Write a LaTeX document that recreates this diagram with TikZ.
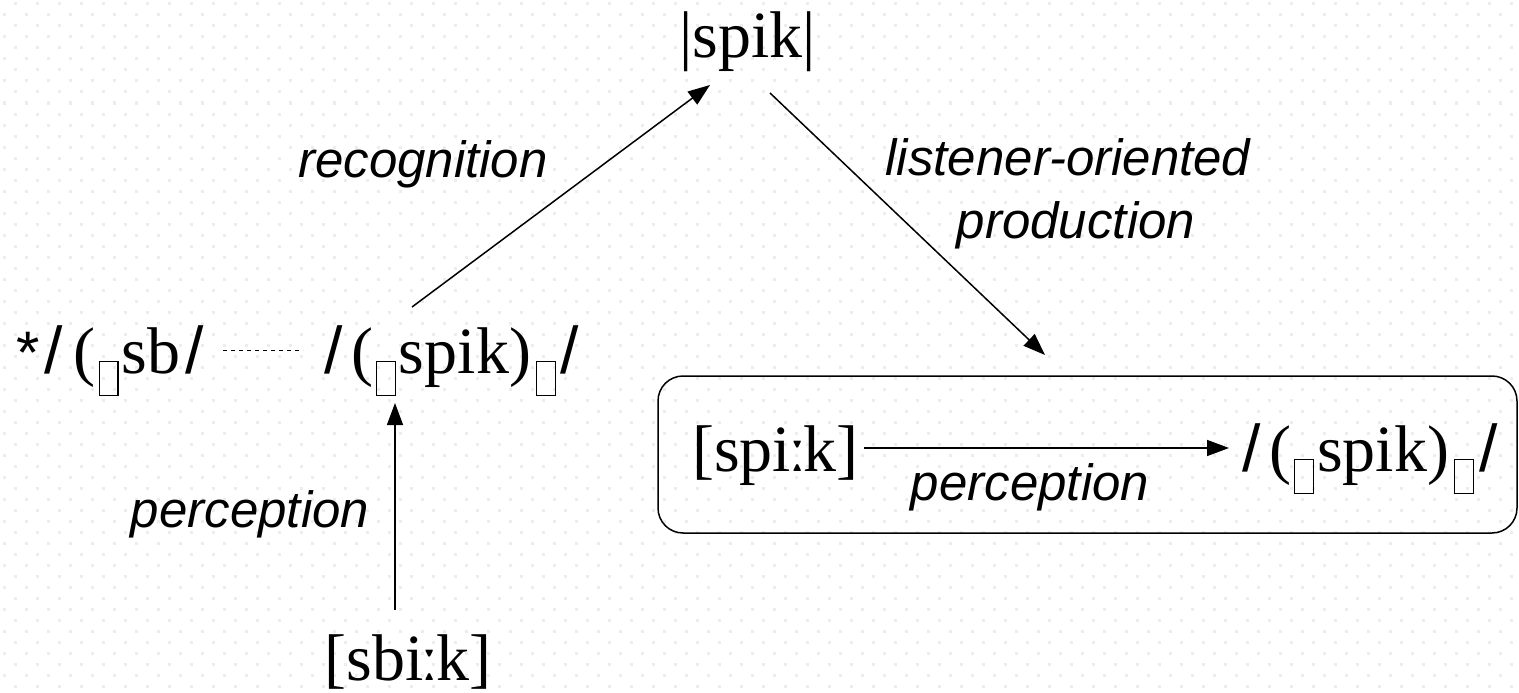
\documentclass[tikz,border=0pt]{standalone}
\usepackage{fontspec}
\setmainfont{Liberation Serif}
\newfontfamily\ser{Liberation Serif}
\newfontfamily\san{Liberation Sans}
\usetikzlibrary{arrows.meta}
\newcommand\sylb{\kern3pt\raisebox{-22pt}{\setlength\fboxsep{0pt}\setlength\fboxrule{1.4pt}\fbox{\rule{0pt}{33pt}\hspace{17.2pt}}}\kern3pt}
\newcommand\psl{{\san/}}
\newcommand\lng{\kern-3pt ː\kern-3pt}
\newcommand\phonfont{\ser\fontsize{66}{70}\selectfont}
\newcommand\labfont{\san\itshape\fontsize{51}{63}\selectfont}
\begin{document}
\begin{tikzpicture}[x=1pt,y=-1pt,
  phon/.style={inner sep=0pt, font=\phonfont},
  lbl/.style={inner sep=0pt, font=\labfont},
  conn/.style={line width=1.5pt, -{Triangle[length=22pt,width=16pt]}},
  frame/.style={draw, rounded corners=25pt, line width=1.5pt},
]
\useasboundingbox (0,0) rectangle (1519,693);
\fill[white] (0,0) rectangle (1519,693);
\foreach \j in {0,...,62} {
  \pgfmathsetmacro\yy{4+11*\j}
  \pgfmathsetmacro\xs{mod(\j,2)==0 ? 13.5 : 2.5}
  \draw[black!7, line width=3pt, dash pattern=on 3pt off 19pt] (\xs,\yy) -- (1519,\yy);
}
\node[frame, minimum width=859pt, minimum height=157pt] (box) at (1087.5,454.5) {};

\node[phon, anchor=base] (top) at (747.5,57.5) {|spik|};
\node[phon, anchor=base] (bot) at (408,680) {[sbi\lng k]};
\node[phon, anchor=base west] (star) at (16,373) {{\san\fontsize{60}{60}\selectfont*}\kern5pt\psl\kern11pt(\sylb sb\kern5pt\psl};
\node[phon, anchor=base] (lform) at (452,373) {\psl\kern8pt(\sylb spik)\kern2pt\sylb\kern2pt\psl};
\node[phon, anchor=base west] (phon) at (692,471) {[spi\lng k]};
\node[phon, anchor=base] (rform) at (1370,471) {\psl\kern8pt(\sylb spik)\kern2pt\sylb\kern2pt\psl};

\node[lbl, anchor=base] (rec) at (423,177) {recognition};
\node[lbl, anchor=base] (perc1) at (250,527) {perception};
\node[lbl, anchor=base] (lop1) at (1068,175) {listener-oriented};
\node[lbl, anchor=base] (lop2) at (1076,238) {production};
\node[lbl, anchor=base] (perc2) at (1030,500) {perception};

\coordinate (recA) at (412,307);
\coordinate (recB) at (710,85);
\coordinate (lisA) at (770,93);
\coordinate (lisB) at (1045,355);
\coordinate (perA) at (395,610);
\coordinate (perB) at (395,403);
\coordinate (inA) at (864,448);
\coordinate (inB) at (1229,448);
\coordinate (dA) at (223,350);
\coordinate (dB) at (303,350);

\draw[conn] (recA) -- (recB);
\draw[conn] (lisA) -- (lisB);
\draw[conn] (perA) -- (perB);
\draw[conn] (inA) -- (inB);
\draw[line width=1pt, dash pattern=on 4pt off 4pt] (dA) -- (dB);
\end{tikzpicture}
\end{document}
